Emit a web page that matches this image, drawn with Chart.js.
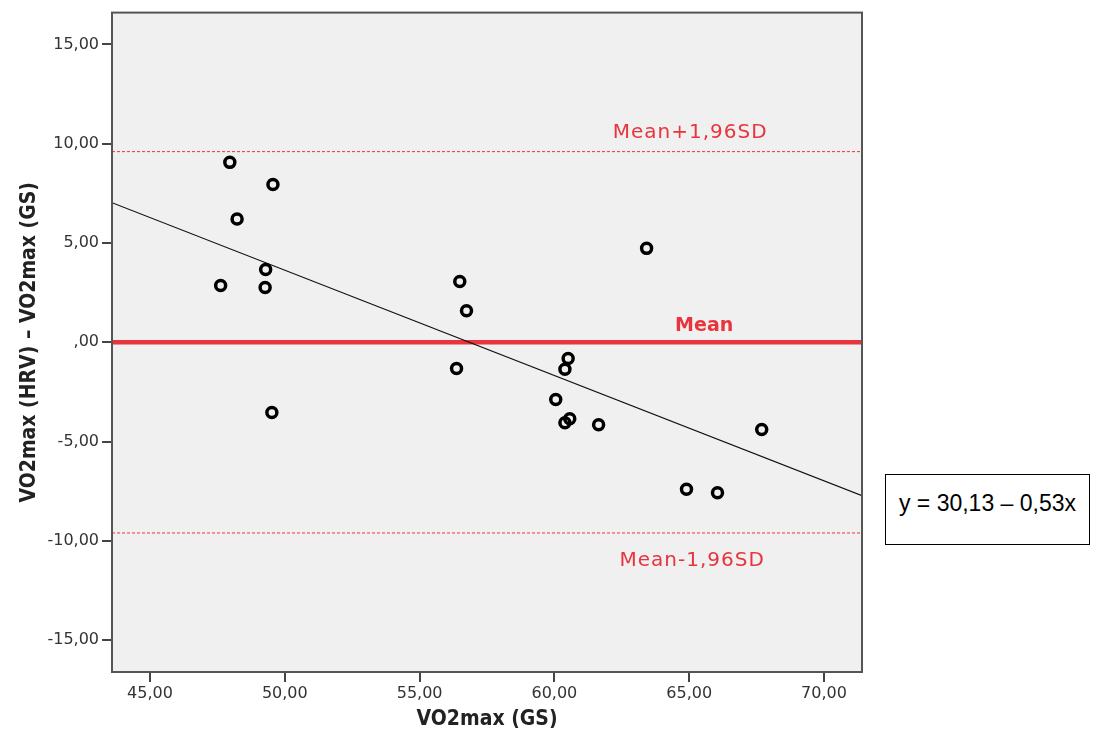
<!DOCTYPE html>
<html>
<head>
<meta charset="utf-8">
<script src="https://cdn.jsdelivr.net/npm/chart.js@4/dist/chart.umd.min.js"></script>
<style>
    html, body { margin: 0; padding: 0; background: #fff; }
    #wrap { position: relative; width: 1094px; height: 740px; }
    #eq {
        position: absolute; left: 885px; top: 474px; width: 205px; height: 71px;
        border: 1.5px solid #000; background: #fff;
        font: 23px "Liberation Sans", Arial, sans-serif; color: #000;
        display: flex; align-items: center; justify-content: center; padding-bottom: 12px; box-sizing: border-box;
    }
</style>
</head>
<body>
<div id="wrap">
    <canvas id="chart" width="1094" height="740"></canvas>
    <div id="eq">y = 30,13 – 0,53x</div>
</div>
<script>
// VO2max (GS) on x, difference HRV - GS on y
const gsValues   = [47.96, 49.56, 48.23, 49.29, 47.62, 49.27, 49.52, 56.49, 56.74, 56.37,
                    60.51, 60.39, 60.05, 60.39, 60.57, 61.64, 63.42, 64.90, 66.05, 67.69];
const diffValues = [9.06, 7.95, 6.21, 3.67, 2.86, 2.76, -3.53, 3.06, 1.59, -1.32,
                    -0.82, -1.36, -2.88, -4.05, -3.85, -4.15, 4.73, -7.40, -7.58, -4.39];

const xTicks = [45, 50, 55, 60, 65, 70];
const yTicks = [-15, -10, -5, 0, 5, 10, 15];
const xRange = [43.59, 71.41];
const yRange = [-16.6, 16.6];

const meanDiff = 0;
const upperLoA = 9.6;
const lowerLoA = -9.6;
const regIntercept = 30.13;
const regSlope = -0.53;
const lineLabels = ['Mean+1,96SD', 'Mean', 'Mean-1,96SD'];
const labelX = 65;

const RED = '#e8343c';

function fmt(v) {
    if (v === 0) return ',00';
    return v.toFixed(2).replace('.', ',');
}

function hLine(v) {
    return [{ x: xRange[0], y: v }, { x: xRange[1], y: v }];
}

const points = gsValues.map((g, i) => ({ x: g, y: diffValues[i] }));
const regLine = xRange.map(x => ({ x: x, y: regIntercept + regSlope * x }));

const plotFrame = {
    id: 'plotFrame',
    beforeDatasetsDraw(chart) {
        const { ctx, chartArea: a } = chart;
        ctx.save();
        ctx.fillStyle = '#f0f0f0';
        ctx.fillRect(a.left, a.top, a.right - a.left, a.bottom - a.top);
        ctx.restore();
    },
    afterDatasetsDraw(chart) {
        const { ctx, chartArea: a, scales } = chart;
        ctx.save();
        ctx.strokeStyle = '#555';
        ctx.lineWidth = 2;
        ctx.strokeRect(a.left, a.top, a.right - a.left, a.bottom - a.top);

        const px = scales.x.getPixelForValue(labelX);
        ctx.textAlign = 'center';
        ctx.textBaseline = 'middle';
        ctx.fillStyle = RED;
        ctx.letterSpacing = '1px';
        ctx.font = '20px "DejaVu Sans", sans-serif';
        ctx.fillText(lineLabels[0], px + 1, scales.y.getPixelForValue(upperLoA) - 19);
        ctx.fillText(lineLabels[2], px + 3, scales.y.getPixelForValue(lowerLoA) + 28);
        ctx.letterSpacing = '0px';
        ctx.font = 'bold 19px "DejaVu Sans", sans-serif';
        ctx.fillText(lineLabels[1], px + 15, scales.y.getPixelForValue(meanDiff) - 16);
        ctx.restore();
    }
};

const titleFont = { family: '"DejaVu Sans Condensed", "Liberation Sans Narrow", "DejaVu Sans", sans-serif', size: 21, weight: 'bold' };
const tickFont = { family: '"DejaVu Sans", sans-serif', size: 16 };

new Chart(document.getElementById('chart').getContext('2d'), {
    type: 'scatter',
    data: {
        datasets: [
            {
                data: points,
                pointRadius: 5,
                pointBorderWidth: 3.5,
                pointBorderColor: '#000',
                pointBackgroundColor: 'rgba(0,0,0,0)',
                order: 0,
            },
            {
                data: regLine,
                showLine: true,
                borderColor: '#111',
                borderWidth: 1.2,
                pointRadius: 0,
                order: 1,
            },
            {
                data: hLine(meanDiff),
                showLine: true,
                borderColor: RED,
                borderWidth: 4.5,
                pointRadius: 0,
                order: 2,
            },
            {
                data: hLine(upperLoA),
                showLine: true,
                borderColor: RED,
                borderWidth: 1,
                borderDash: [3, 2],
                pointRadius: 0,
                order: 3,
            },
            {
                data: hLine(lowerLoA),
                showLine: true,
                borderColor: RED,
                borderWidth: 1,
                borderDash: [3, 2],
                pointRadius: 0,
                order: 3,
            },
        ],
    },
    options: {
        responsive: false,
        animation: false,
        layout: { padding: { top: 10, right: 232, left: 0, bottom: 0 } },
        plugins: {
            legend: { display: false },
            tooltip: { enabled: false },
        },
        scales: {
            x: {
                type: 'linear',
                min: xRange[0],
                max: xRange[1],
                afterBuildTicks: scale => { scale.ticks = xTicks.map(v => ({ value: v })); },
                afterFit: scale => { scale.height = 68; },
                grid: { display: true, drawOnChartArea: false, drawTicks: true, tickLength: 10, color: '#444', lineWidth: 2 },
                border: { display: true, color: '#555', width: 2 },
                ticks: { callback: v => fmt(v), font: tickFont, color: '#333', padding: 2, maxRotation: 0 },
                title: { display: true, text: 'VO2max (GS)', font: titleFont, color: '#222', padding: { top: 0, bottom: 8 } },
            },
            y: {
                type: 'linear',
                min: yRange[0],
                max: yRange[1],
                afterBuildTicks: scale => { scale.ticks = yTicks.map(v => ({ value: v })); },
                afterFit: scale => { scale.width = 112; },
                grid: { display: true, drawOnChartArea: false, drawTicks: true, tickLength: 10, color: '#444', lineWidth: 2 },
                border: { display: true, color: '#555', width: 2 },
                ticks: { callback: v => fmt(v), font: tickFont, color: '#333', padding: 3 },
                title: { display: true, text: 'VO2max (HRV) – VO2max (GS)', font: titleFont, color: '#222', padding: { top: 17, bottom: 0 } },
            },
        },
    },
    plugins: [plotFrame],
});
</script>
</body>
</html>
